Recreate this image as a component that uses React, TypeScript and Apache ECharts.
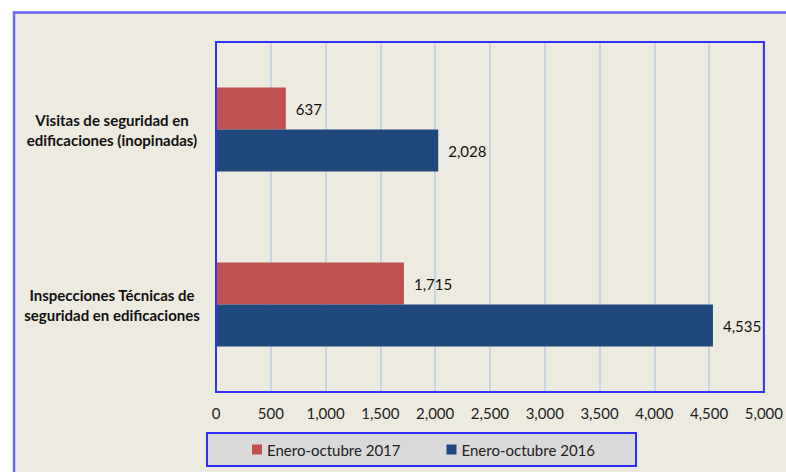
import React, { useEffect, useRef } from "react";
import * as echarts from "echarts";

const categories = [
  "Visitas de seguridad en\nedificaciones (inopinadas)",
  "Inspecciones Técnicas de\nseguridad en edificaciones",
];
const series2017 = [637, 1715];
const series2016 = [2028, 4535];
const seriesNames = ["Enero-octubre 2017", "Enero-octubre 2016"];
const xTicks = { min: 0, max: 5000, interval: 500 };

const fmt = (v: number) => v.toLocaleString("en-US");

export default function App() {
  const ref = useRef<HTMLDivElement>(null);
  useEffect(() => {
    if (!ref.current) return;
    const chart = echarts.init(ref.current, null, { renderer: "svg" });
    const font = "Lato, 'Open Sans', sans-serif";
    const dataLabel = {
      show: true,
      position: "right",
      distance: 10,
      color: "#111",
      fontSize: 15,
      fontFamily: font,
      formatter: (p: any) => fmt(p.value),
    };
    chart.setOption({
      animation: false,
      backgroundColor: "#ffffff",
      textStyle: { fontFamily: font },
      graphic: [
        {
          type: "rect",
          shape: { x: 14, y: 12.5, width: 800, height: 500 },
          style: { fill: "#EDEAE0", stroke: "#6666F2", lineWidth: 2.5 },
          z: -10,
        },
        {
          type: "rect",
          shape: { x: 207, y: 433, width: 429, height: 33 },
          style: { fill: "#D9D9D9", stroke: "#2D2DFF", lineWidth: 2 },
          z: 0,
        },
      ],
      grid: {
        left: 216,
        top: 42,
        width: 550,
        height: 350,
        show: true,
        borderColor: "#3030FF",
        borderWidth: 2,
        backgroundColor: "transparent",
        z: 3,
      },
      legend: {
        data: seriesNames,
        left: 247,
        top: 437,
        itemWidth: 10,
        itemHeight: 10,
        itemGap: 46,
        icon: "rect",
        textStyle: { fontSize: 15, color: "#222", fontFamily: font },
        z: 5,
      },
      xAxis: {
        type: "value",
        min: xTicks.min,
        max: xTicks.max,
        interval: xTicks.interval,
        axisLine: { show: false },
        axisTick: { show: false },
        splitLine: { show: true, lineStyle: { color: "#B9CDE5", width: 1.5 } },
        axisLabel: {
          color: "#222",
          fontSize: 15,
          margin: 13,
          fontFamily: font,
          formatter: (v: number) => fmt(v),
        },
      },
      yAxis: {
        type: "category",
        data: categories,
        inverse: true,
        axisLine: { show: false },
        axisTick: { show: false },
        splitLine: { show: false },
        axisLabel: {
          color: "#111",
          fontSize: 15,
          fontWeight: "bold",
          align: "center",
          margin: 104,
          lineHeight: 20,
          fontFamily: font,
        },
      },
      series: [
        {
          name: seriesNames[0],
          type: "bar",
          data: series2017,
          barCategoryGap: "52%",
          barGap: "0%",
          itemStyle: { color: "#C0504D" },
          label: dataLabel,
        },
        {
          name: seriesNames[1],
          type: "bar",
          data: series2016,
          barCategoryGap: "52%",
          barGap: "0%",
          itemStyle: { color: "#1F497D" },
          label: dataLabel,
        },
      ],
    });
    return () => chart.dispose();
  }, []);
  return (
    <div
      ref={ref}
      style={{ position: "absolute", left: 0, top: 0, width: 786, height: 472 }}
    />
  );
}
